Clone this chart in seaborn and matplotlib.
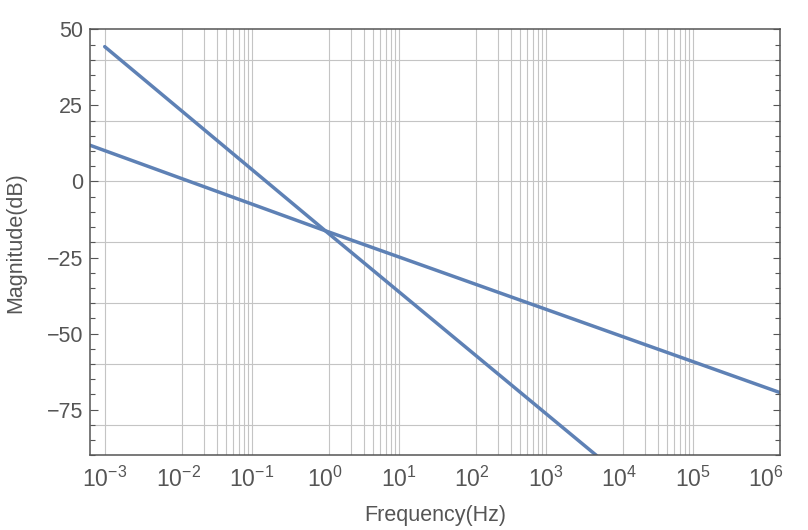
import numpy as np
import pandas as pd
import matplotlib
matplotlib.use("Agg")
import matplotlib.pyplot as plt
import matplotlib.ticker as mticker
import seaborn as sns

# ---- data ----
freq_steep = [1e-3, 1.0, 4.86e3]          # Hz
mag_steep = [44.3, -16.2, -90.0]          # dB
freq_shallow = [6.3e-4, 1.0, 1.535e6]     # Hz
mag_shallow = [11.9, -16.2, -69.4]        # dB

x_ticks = [1e-3, 1e-2, 1e-1, 1e0, 1e1, 1e2, 1e3, 1e4, 1e5, 1e6]
y_major = [-75, -50, -25, 0, 25, 50]
grid_decades = [-1, 1, 3, 5]
h_grid = [-80, -60, -40, -20, 0, 20, 40]

df = pd.DataFrame({
    "freq": freq_steep + freq_shallow,
    "mag": mag_steep + mag_shallow,
    "series": ["steep"] * len(freq_steep) + ["shallow"] * len(freq_shallow),
})

sns.set_style("white")
plt.rcParams["font.family"] = ["Liberation Sans", "DejaVu Sans"]
plt.rcParams["mathtext.fontset"] = "custom"
plt.rcParams["mathtext.rm"] = "Liberation Sans"
plt.rcParams["mathtext.it"] = "Liberation Sans:italic"
plt.rcParams["mathtext.bf"] = "Liberation Sans:bold"

txt = "#555555"
line_col = "#5E81B5"
grid_col = "#c4c4c4"

fig = plt.figure(figsize=(8.08, 5.30), dpi=100)
ax = fig.add_axes([90 / 808, 1 - 455.3 / 530, 690 / 808, 426 / 530])
ax.set_xscale("log")

# grid lines
vgrid = [1e-3] + [k / 9 * 10.0 ** d for d in grid_decades for k in range(1, 10)]
for v in vgrid:
    ax.axvline(v, color=grid_col, lw=0.8, zorder=0)
for h in h_grid:
    ax.axhline(h, color=grid_col, lw=0.8, zorder=0)

sns.lineplot(data=df, x="freq", y="mag", hue="series", palette=[line_col, line_col],
             linewidth=2.5, legend=False, ax=ax, sort=False, estimator=None,
             units="series")

ax.set_xlim(10 ** -3.2, 10 ** 6.186)
ax.set_ylim(-90, 50)

ax.xaxis.set_major_locator(mticker.FixedLocator(x_ticks))
ax.xaxis.set_major_formatter(mticker.LogFormatterSciNotation())
ax.xaxis.set_minor_locator(mticker.NullLocator())
ax.yaxis.set_major_locator(mticker.FixedLocator(y_major))
ax.yaxis.set_minor_locator(mticker.MultipleLocator(5))
ax.yaxis.set_major_formatter(mticker.FuncFormatter(lambda v, p: f"{int(v)}".replace("-", "\u2212")))

ax.tick_params(axis="x", which="major", direction="in", length=5.3, width=0.8,
               color="#555555", labelcolor=txt, labelsize=16.5, pad=8, top=False)
ax.tick_params(axis="y", which="major", direction="in", length=5.4, width=0.8,
               color="#555555", labelcolor=txt, labelsize=15.5, pad=5, left=True, right=True)
ax.tick_params(axis="y", which="minor", direction="in", length=3.6, width=0.8,
               color="#555555", left=True, right=True)

for s in ax.spines.values():
    s.set_color("#555555")
    s.set_linewidth(1.1)

ax.set_xlabel("Frequency(Hz)", fontsize=15.5, color=txt)
ax.set_ylabel("Magnitude(dB)", fontsize=15.5, color=txt)
ax.xaxis.set_label_coords(0.5, -0.117)
ax.yaxis.set_label_coords(-0.093, 0.5)
ax.grid(False)

fig.savefig("out.png", dpi=100)
